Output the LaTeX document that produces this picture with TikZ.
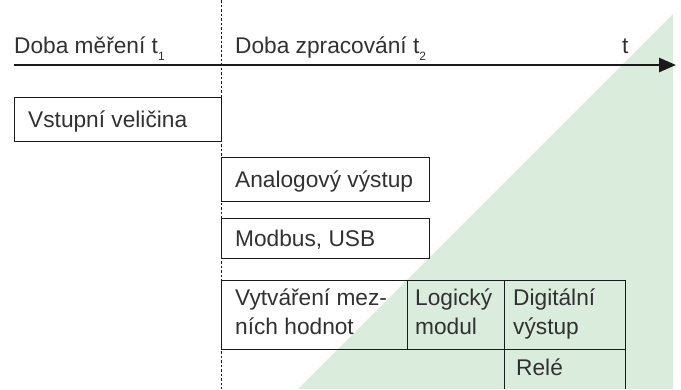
\documentclass[tikz,border=0pt]{standalone}
\usepackage{fontspec}
\setmainfont{Liberation Sans}
\usetikzlibrary{arrows.meta}
\definecolor{zone}{HTML}{DAEDDD}
\definecolor{ink}{HTML}{1A1A1A}
\tikzset{
  boxline/.style={draw=ink, line width=0.9pt},
  lbl/.style={anchor=base west, inner sep=0pt, font=\fontsize{22.7}{29}\selectfont, text=ink!90},
}
\newcommand{\subidx}[1]{\raisebox{-0.35em}{\fontsize{12}{12}\selectfont #1}}
\begin{document}
\begin{tikzpicture}[x=1pt,y=-1pt]
\useasboundingbox (0,0) rectangle (681,389);
% green zone
\fill[zone] (673,14) -- (673,389) -- (298,389) -- cycle;
% dotted divider
\draw[ink, line width=0.8pt, dash pattern=on 2.5pt off 2pt] (221,0) -- (221,389);
% time axis
\coordinate (axs) at (14,65);
\coordinate (axe) at (676,65);
\draw[ink, line width=2.6pt, -{Triangle[length=17pt,width=14pt]}] (axs) -- (axe);
\node[lbl] (t1) at (14,53) {Doba měření t\subidx{1}};
\node[lbl] (t2) at (235,53) {Doba zpracování t\subidx{2}};
\node[lbl] (tt) at (622,53) {t};
% boxes
\draw[boxline] (14,97) rectangle (221,141);
\node[lbl] (vst) at (28,127) {Vstupní veličina};
\draw[boxline] (221,157) rectangle (429,201);
\node[lbl] (ana) at (235,187) {Analogový výstup};
\draw[boxline] (221,218) rectangle (429,258);
\node[lbl] (mod) at (235,246) {Modbus, USB};
\draw[boxline] (221,280) rectangle (625,349);
\draw[boxline] (407,280) -- (407,349);
\draw[boxline] (504,280) -- (504,389);
\draw[boxline] (625,349) -- (625,389);
\node[lbl] (vyt1) at (235,305) {Vytváření mez-};
\node[lbl] (vyt2) at (235,334) {ních hodnot};
\node[lbl] (log1) at (415,305) {Logický};
\node[lbl] (log2) at (415,334) {modul};
\node[lbl] (dig1) at (513,305) {Digitální};
\node[lbl] (dig2) at (513,334) {výstup};
\node[lbl] (rel) at (516,375) {Relé};
\end{tikzpicture}
\end{document}
